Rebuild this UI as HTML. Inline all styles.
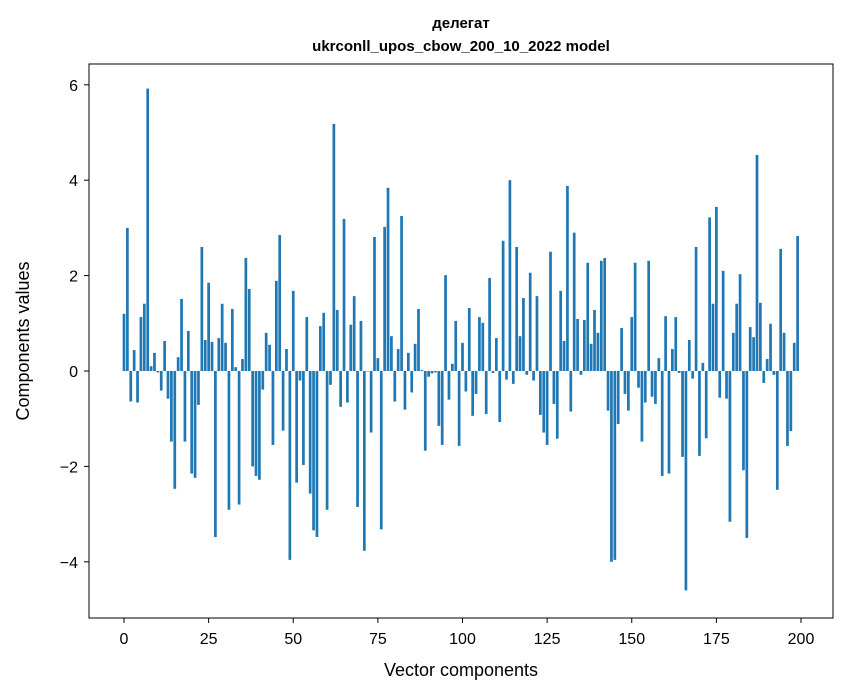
<!DOCTYPE html>
<html><head><meta charset="utf-8"><style>
body{margin:0;background:#fff;}
svg{display:block;font-family:"Liberation Sans","DejaVu Sans",sans-serif;}
</style></head><body>
<svg id="chart" width="847" height="696" xmlns="http://www.w3.org/2000/svg">
<rect width="847" height="696" fill="#fff"/>
<text x="461" y="28" text-anchor="middle" font-size="15" font-weight="bold">делегат</text>
<text x="461" y="51" text-anchor="middle" font-size="15" font-weight="bold">ukrconll_upos_cbow_200_10_2022 model</text>
<g id="bars"></g>
<g id="axes"></g>
<rect x="89" y="64" width="744" height="554" fill="none" stroke="#000" stroke-width="1"/>
<text x="461" y="676" text-anchor="middle" font-size="18">Vector components</text>
<text transform="translate(29,341) rotate(-90)" text-anchor="middle" font-size="18">Components values</text>
</svg>
<script>
const values = [1.2,3.0,-0.64,0.44,-0.66,1.13,1.41,5.92,0.1,0.38,-0.03,-0.41,0.63,-0.58,-1.48,-2.47,0.29,1.51,-1.48,0.84,-2.15,-2.24,-0.71,2.6,0.65,1.85,0.61,-3.48,0.69,1.41,0.59,-2.91,1.3,0.08,-2.8,0.25,2.37,1.72,-2.0,-2.2,-2.28,-0.39,0.8,0.55,-1.55,1.89,2.85,-1.25,0.46,-3.96,1.68,-2.34,-0.2,-1.97,1.13,-2.57,-3.34,-3.48,0.94,1.22,-2.91,-0.29,5.18,1.28,-0.75,3.19,-0.66,0.97,1.57,-2.85,1.05,-3.77,-0.01,-1.29,2.81,0.27,-3.32,3.02,3.84,0.73,-0.64,0.46,3.25,-0.81,0.38,-0.45,0.57,1.3,0.02,-1.67,-0.12,-0.05,-0.03,-1.15,-1.55,2.01,-0.6,0.15,1.05,-1.57,0.59,-0.43,1.32,-0.94,-0.48,1.13,1.01,-0.9,1.95,-0.04,0.69,-1.07,2.73,-0.18,4.0,-0.27,2.6,0.73,1.53,-0.08,2.06,-0.2,1.57,-0.92,-1.29,-1.55,2.5,-0.69,-1.42,1.68,0.63,3.88,-0.85,2.9,1.09,-0.08,1.07,2.27,0.57,1.28,0.8,2.31,2.37,-0.83,-4.0,-3.96,-1.11,0.9,-0.48,-0.83,1.13,2.27,-0.35,-1.48,-0.66,2.31,-0.54,-0.69,0.27,-2.2,1.15,-2.15,0.46,1.13,-0.04,-1.8,-4.6,0.65,-0.16,2.6,-1.78,0.17,-1.41,3.22,1.41,3.44,-0.56,2.1,-0.58,-3.16,0.8,1.41,2.03,-2.08,-3.5,0.92,0.71,4.53,1.43,-0.25,0.25,0.99,-0.08,-2.49,2.56,0.8,-1.57,-1.26,0.59,2.83];
const xTicks = [0,25,50,75,100,125,150,175,200];
const yTicks = [-4,-2,0,2,4,6];
const yTickLabels = ["\u22124","\u22122","0","2","4","6"];

const NS = "http://www.w3.org/2000/svg";
function xs(v){ return 124 + v*(801-124)/200; }
function ys(v){ return 371 - v*47.7; }
const bars = document.getElementById('bars');
values.forEach(function(v,i){
  const r = document.createElementNS(NS,'rect');
  const w = 0.8*(801-124)/200;
  r.setAttribute('x', xs(i)-w/2);
  r.setAttribute('width', w);
  r.setAttribute('y', Math.min(ys(v), ys(0)));
  r.setAttribute('height', Math.abs(ys(v)-ys(0)));
  r.setAttribute('fill', '#1f77b4');
  
  
  bars.appendChild(r);
});
const axes = document.getElementById('axes');
xTicks.forEach(function(t){
  const l = document.createElementNS(NS,'line');
  l.setAttribute('x1', xs(t)); l.setAttribute('x2', xs(t));
  l.setAttribute('y1', 618); l.setAttribute('y2', 623);
  l.setAttribute('stroke', '#000');
  
  
  axes.appendChild(l);
  const tx = document.createElementNS(NS,'text');
  tx.setAttribute('x', xs(t)); tx.setAttribute('y', 644);
  tx.setAttribute('text-anchor', 'middle'); tx.setAttribute('font-size', '16');
  tx.textContent = String(t);
  
  
  axes.appendChild(tx);
});
yTicks.forEach(function(t,i){
  const l = document.createElementNS(NS,'line');
  l.setAttribute('x1', 84); l.setAttribute('x2', 89);
  l.setAttribute('y1', ys(t)); l.setAttribute('y2', ys(t));
  l.setAttribute('stroke', '#000');
  
  
  axes.appendChild(l);
  const tx = document.createElementNS(NS,'text');
  tx.setAttribute('x', 78); tx.setAttribute('y', ys(t)+6);
  tx.setAttribute('text-anchor', 'end'); tx.setAttribute('font-size', '16');
  tx.textContent = yTickLabels[i];
  
  
  axes.appendChild(tx);
});
</script>
</body></html>
